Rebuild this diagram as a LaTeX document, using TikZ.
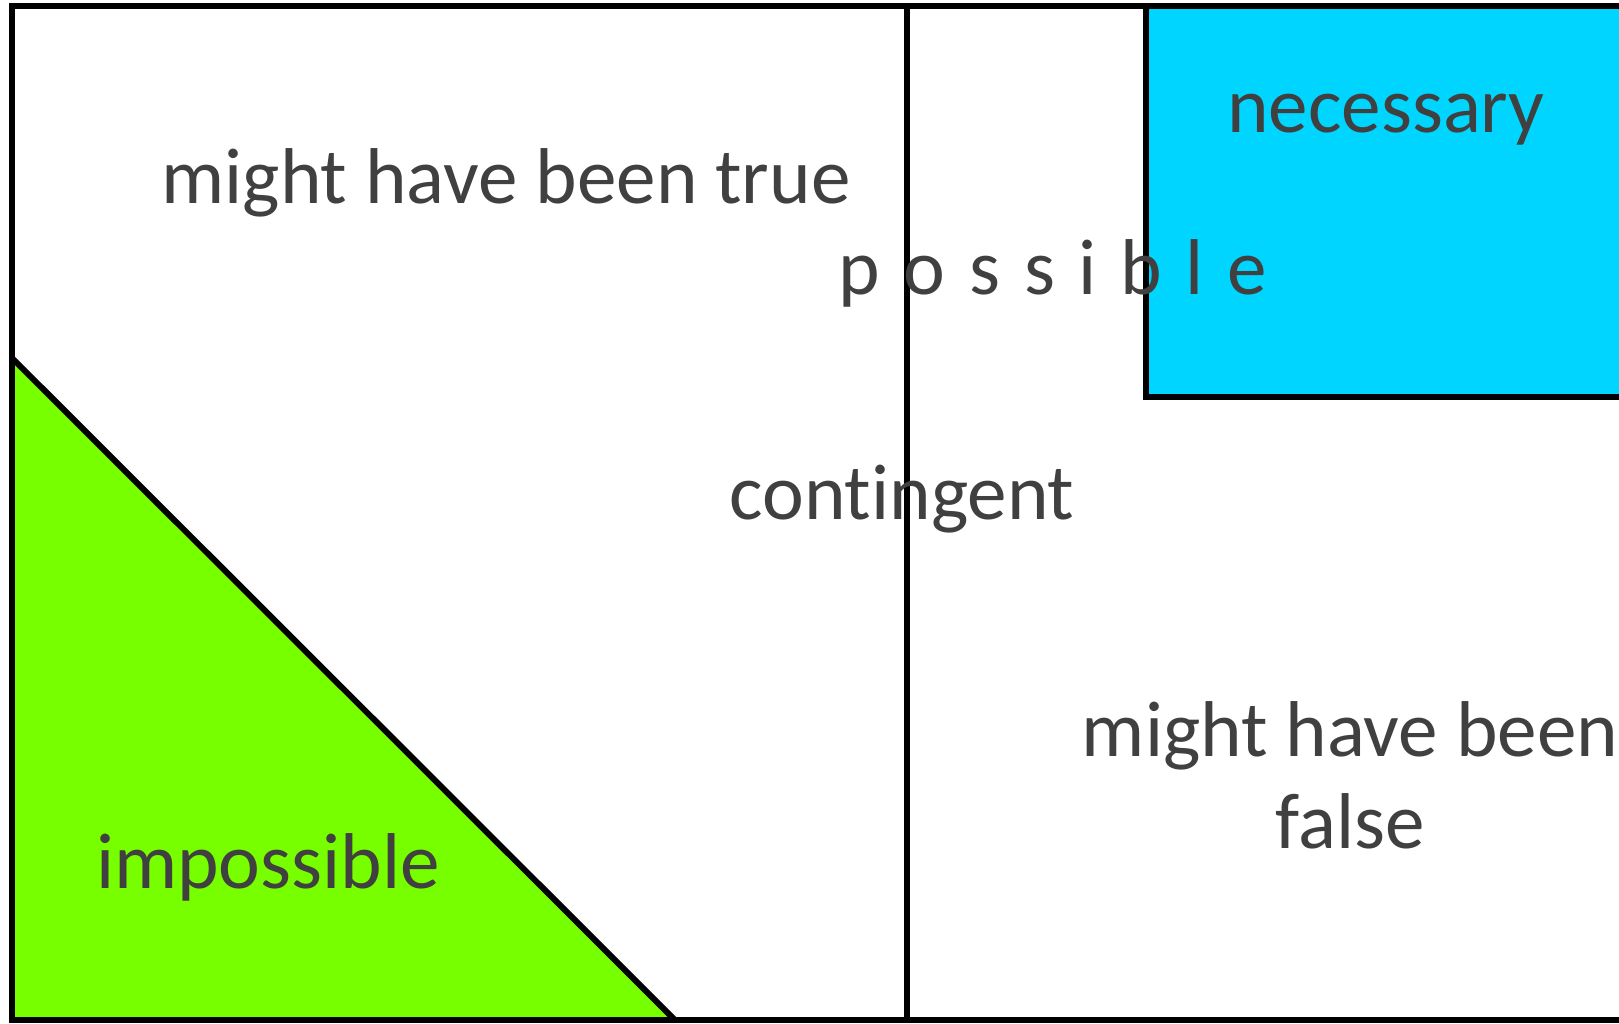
\documentclass[tikz,border=0pt]{standalone}
\usepackage{fontspec}
\setmainfont{Carlito}[Ligatures=CommonOff]
\usepackage{xcolor}
\definecolor{txtgrey}{HTML}{404040}
\definecolor{necblue}{HTML}{00D5FF}
\definecolor{impgreen}{HTML}{77FF00}

\begin{document}
\begin{tikzpicture}[x=0.01cm, y=-0.01cm, line width=1.7pt,
    lbl/.style={anchor=base, inner sep=0pt, text=txtgrey, font=\fontsize{22.5}{26}\selectfont}]
  \useasboundingbox (0,0) rectangle (1619,1023);
  \clip (0,0) rectangle (1619,1023);
  \fill[white] (0,0) rectangle (1619,1023);
  
  \fill[impgreen] (12,358) -- (12,1020) -- (675,1020) -- cycle;
  \fill[necblue] (1146,6) rectangle (1650,397);
  
  \draw (12,358) -- (675,1020);
  \draw (1146,6) -- (1146,397) -- (1650,397);
  \draw (907,6) -- (907,1020);
  \draw (1650,6) -- (12,6) -- (12,1020) -- (1650,1020);
  
  \node[lbl] (true) at (506,203) {might have been true};
  \node[lbl] (necessary) at (1386,132) {necessary};
  \node[lbl] (possible) at (1053,294) {\spaceskip=0.3em p o s s i b l e};
  \node[lbl] (contingent) at (902,519) {contingent};
  \node[lbl, align=center] (false) at (1350,848) {might have been\\false};
  \node[lbl] (impossible) at (268,888) {impossible};
\end{tikzpicture}
\end{document}
